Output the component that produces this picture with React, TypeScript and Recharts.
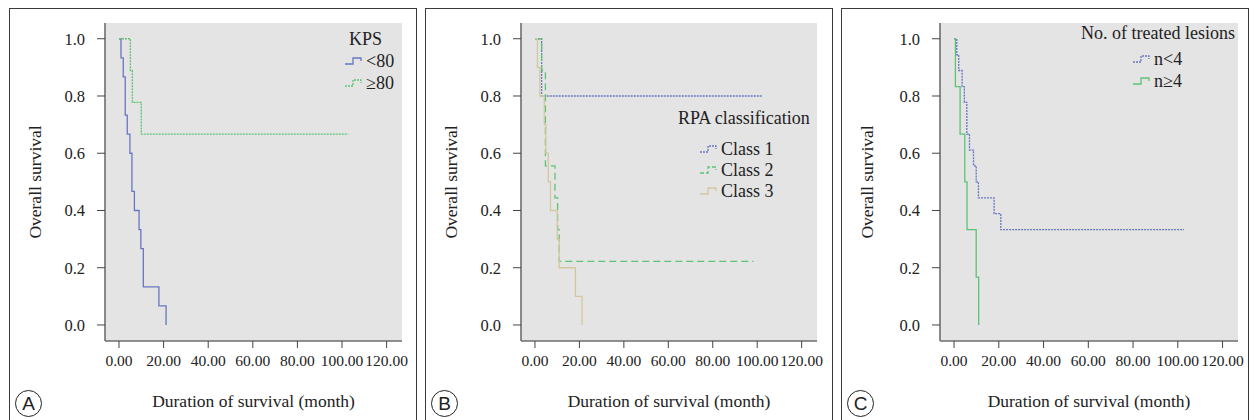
import { LineChart, Line, XAxis, YAxis, CartesianGrid, Label } from "recharts";

const xTicks = [0, 20, 40, 60, 80, 100, 120];
const yTicks = [0, 0.2, 0.4, 0.6, 0.8, 1.0];

// A: KPS
const kpsLowTime = [0, 0.9, 1.9, 2.8, 3.7, 4.9, 5.8, 6.9, 9.0, 9.8, 10.9, 17.9, 21.1];
const kpsLowSurv = [1, 0.933, 0.867, 0.733, 0.667, 0.6, 0.467, 0.4, 0.333, 0.267, 0.133, 0.067, 0];
const kpsHighTime = [0, 5.1, 6.0, 10.0, 102.8];
const kpsHighSurv = [1, 0.889, 0.778, 0.667, 0.667];

// B: RPA classification
const class1Time = [0, 3.0, 102.3];
const class1Surv = [1, 0.8, 0.8];
const class2Time = [0, 3.0, 4.7, 9.0, 10.2, 10.9, 98.3];
const class2Surv = [1, 0.889, 0.556, 0.444, 0.333, 0.222, 0.222];
const class3Time = [0, 1.1, 2.2, 4.2, 4.9, 6.0, 7.0, 10.0, 10.9, 18.2, 21.2];
const class3Surv = [1, 0.9, 0.8, 0.7, 0.6, 0.5, 0.4, 0.3, 0.2, 0.1, 0];

// C: no. of treated lesions
const lt4Time = [0, 1.2, 2.1, 3.6, 4.6, 5.7, 6.9, 8.7, 9.9, 10.9, 17.9, 20.9, 102.8];
const lt4Surv = [1, 0.944, 0.889, 0.833, 0.778, 0.667, 0.611, 0.556, 0.5, 0.444, 0.389, 0.333, 0.333];
const ge4Time = [0, 0.6, 2.7, 4.8, 5.8, 9.9, 11.0];
const ge4Surv = [1, 0.833, 0.667, 0.5, 0.333, 0.167, 0];

const BLUE = "#6677c2";
const GREEN = "#5cc474";
const TAN = "#d4c69e";
const SERIF = "Liberation Serif";

type Series = { name: string; time: number[]; surv: number[]; color: string; dash?: string; iconDash?: string };

const toPoints = (time: number[], surv: number[]) => time.map((t, i) => ({ t, s: surv[i] }));

const panelA: Series[] = [
  { name: "<80", time: kpsLowTime, surv: kpsLowSurv, color: BLUE },
  { name: "≥80", time: kpsHighTime, surv: kpsHighSurv, color: GREEN, dash: "2 1", iconDash: "2 1" },
];
const panelB: Series[] = [
  { name: "Class 1", time: class1Time, surv: class1Surv, color: BLUE, dash: "2 1", iconDash: "2 1" },
  { name: "Class 2", time: class2Time, surv: class2Surv, color: GREEN, dash: "7 4", iconDash: "4 2" },
  { name: "Class 3", time: class3Time, surv: class3Surv, color: TAN },
];
const panelC: Series[] = [
  { name: "n<4", time: lt4Time, surv: lt4Surv, color: BLUE, dash: "2 1", iconDash: "2 1" },
  { name: "n≥4", time: ge4Time, surv: ge4Surv, color: GREEN },
];

function XTick({ x, y, payload }: any) {
  return (
    <text x={x} y={y} dy="0.75em" textAnchor="middle" fontFamily={SERIF} fontSize={15.5} fill="#222">
      {Number(payload.value).toFixed(2)}
    </text>
  );
}

function YTick({ x, y, payload }: any) {
  return (
    <text x={x} y={y} dy="0.35em" textAnchor="end" fontFamily={SERIF} fontSize={16.5} fill="#222">
      {Number(payload.value).toFixed(1)}
    </text>
  );
}

function StepIcon({ color, dash }: { color: string; dash?: string }) {
  return (
    <svg width={18} height={10} style={{ display: "block" }}>
      <path d="M0,8 H8 V2 H16 V5" fill="none" stroke={color} strokeWidth={1.3} strokeDasharray={dash} />
    </svg>
  );
}

type PanelProps = {
  left: number;
  plotLeft: number;
  plotWidth: number;
  series: Series[];
  title: string;
  titleLeft: number;
  titleY: number;
  itemLeft: number;
  itemYs: number[];
  letter: string;
};

function Panel(p: PanelProps) {
  const W = 406;
  const H = 411;
  const top = 14;
  const plotBottom = 332;
  const yAxisW = 60;
  const margin = { top, right: W - p.plotLeft - p.plotWidth, bottom: H - plotBottom - 30, left: p.plotLeft - yAxisW };
  return (
    <div style={{ position: "absolute", left: p.left, top: 8, width: W, height: 420, border: "1px solid #3a3a3a", background: "#fff" }}>
      <LineChart width={W} height={H} margin={margin}>
        <CartesianGrid fill="#e4e4e4" horizontal={false} vertical={false} />
        <XAxis
          type="number"
          dataKey="t"
          domain={[-6.28, 126.9]}
          allowDataOverflow
          ticks={xTicks}
          interval={0}
          height={30}
          tick={<XTick />}
          tickSize={7}
          tickMargin={6}
          axisLine={{ stroke: "#6e6e6e", strokeWidth: 1.6 }}
          tickLine={{ stroke: "#444" }}
        >
          <Label
            content={({ viewBox }: any) => (
              <text x={viewBox.x + viewBox.width / 2} y={398} textAnchor="middle" fontFamily={SERIF} fontSize={17.5} fill="#222">
                Duration of survival (month)
              </text>
            )}
          />
        </XAxis>
        <YAxis
          type="number"
          dataKey="s"
          domain={[-0.056, 1.055]}
          allowDataOverflow
          ticks={yTicks}
          interval={0}
          width={yAxisW}
          tick={<YTick />}
          tickSize={8}
          tickMargin={12}
          axisLine={{ stroke: "#6e6e6e", strokeWidth: 1.6 }}
          tickLine={{ stroke: "#444" }}
        >
          <Label
            content={({ viewBox }: any) => {
              const cy = viewBox.y + viewBox.height / 2;
              return (
                <text x={31} y={cy} transform={`rotate(-90, 31, ${cy})`} textAnchor="middle" fontFamily={SERIF} fontSize={17.5} fill="#222">
                  Overall survival
                </text>
              );
            }}
          />
        </YAxis>
        {p.series.map((s) => (
          <Line
            key={s.name}
            name={s.name}
            data={toPoints(s.time, s.surv)}
            dataKey="s"
            type="stepAfter"
            stroke={s.color}
            strokeWidth={1.3}
            strokeDasharray={s.dash}
            dot={false}
            activeDot={false}
            isAnimationActive={false}
          />
        ))}
      </LineChart>
      <div style={{ position: "absolute", left: p.titleLeft, top: p.titleY - 11, fontFamily: SERIF, fontSize: 18, lineHeight: "22px", color: "#222", whiteSpace: "nowrap" }}>
        {p.title}
      </div>
      {p.series.map((s, i) => (
        <div
          key={s.name}
          style={{ position: "absolute", left: p.itemLeft, top: p.itemYs[i] - 11, height: 22, display: "flex", alignItems: "center", fontFamily: SERIF, fontSize: 18, color: "#222", whiteSpace: "nowrap" }}
        >
          <StepIcon color={s.color} dash={s.iconDash} />
          <span style={{ marginLeft: 3 }}>{s.name}</span>
        </div>
      ))}
      <div
        style={{ position: "absolute", left: 5, top: 381, width: 25, height: 25, border: "1.3px solid #222", borderRadius: "50%", display: "flex", alignItems: "center", justifyContent: "center", fontFamily: "'Liberation Sans', Arial, sans-serif", fontSize: 19, color: "#222" }}
      >
        {p.letter}
      </div>
    </div>
  );
}

export default function App() {
  return (
    <div style={{ position: "fixed", left: 0, top: 0, width: 1250, height: 420, background: "#fff", overflow: "hidden" }}>
      <Panel left={9} plotLeft={95} plotWidth={297} series={panelA} title="KPS" titleLeft={339} titleY={30} itemLeft={335} itemYs={[52, 74]} letter="A" />
      <Panel left={425} plotLeft={95} plotWidth={296} series={panelB} title="RPA classification" titleLeft={252} titleY={109} itemLeft={274} itemYs={[140, 161, 182]} letter="B" />
      <Panel left={841} plotLeft={98} plotWidth={298} series={panelC} title="No. of treated lesions" titleLeft={239} titleY={24} itemLeft={291} itemYs={[50, 72]} letter="C" />
    </div>
  );
}
